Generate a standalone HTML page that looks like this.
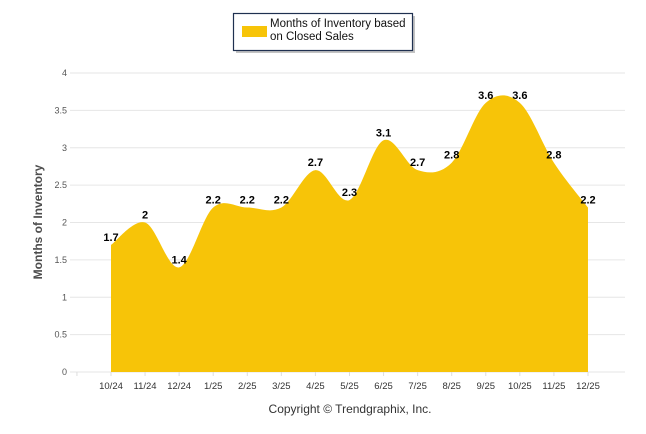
<!DOCTYPE html>
<html><head><meta charset="utf-8"><style>
body{margin:0;background:#fff;}
svg{display:block;font-family:"Liberation Sans",Arial,sans-serif;}
</style></head><body>
<svg id="chart" width="646" height="434" viewBox="0 0 646 434">
<g id="grid"></g>
<path id="area" fill="#f7c408"></path>
<g id="ylabels" font-size="9" fill="#555" text-anchor="end"></g>
<g id="xlabels" font-size="9.5" fill="#333" text-anchor="middle"></g>
<g id="vlabels" font-size="11" font-weight="bold" fill="#000" text-anchor="middle"></g>
<text transform="translate(42,222) rotate(-90)" text-anchor="middle" font-size="12" font-weight="bold" fill="#4d4d4d">Months of Inventory</text>
<text x="350" y="413" text-anchor="middle" font-size="12" fill="#333">Copyright © Trendgraphix, Inc.</text>
<g>
<rect x="236" y="16" width="179" height="37" fill="#888" opacity="0.5"/>
<rect x="233.5" y="13.5" width="179" height="37" fill="#fff" stroke="#1f3050" stroke-width="1.2"/>
<rect x="242" y="26" width="25" height="11" fill="#f7c408"/>
<text x="270" y="27" font-size="11.5" fill="#111">Months of Inventory based</text>
<text x="270" y="40" font-size="11.5" fill="#111">on Closed Sales</text>
</g>
</svg>
<script>
const categories=["10/24","11/24","12/24","1/25","2/25","3/25","4/25","5/25","6/25","7/25","8/25","9/25","10/25","11/25","12/25"];
const values=[1.7,2,1.4,2.2,2.2,2.2,2.7,2.3,3.1,2.7,2.8,3.6,3.6,2.8,2.2];
const yTicks=[0,0.5,1,1.5,2,2.5,3,3.5,4];
const NS="http://www.w3.org/2000/svg";
const x0=111,dx=34.07,yBase=372,yTop=73,yMax=4;
const X=i=>x0+dx*i;
const Y=v=>yBase-(yBase-yTop)*v/yMax;
const grid=document.getElementById('grid'),yl=document.getElementById('ylabels'),xl=document.getElementById('xlabels'),vl=document.getElementById('vlabels');
function mk(tag,attrs){const e=document.createElementNS(NS,tag);for(const k in attrs)e.setAttribute(k,attrs[k]);return e;}
yTicks.forEach(t=>{
 const l=mk('line',{x1:70,x2:625,y1:Y(t),y2:Y(t),stroke:'#e6e6e6','stroke-width':1});
 
 
 grid.appendChild(l);
 const tx=mk('text',{x:67,y:Y(t)+3});tx.textContent=t;
 
 
 yl.appendChild(tx);
});
for(let i=-1;i<categories.length;i++){
 const tk=mk('line',{x1:X(i),x2:X(i),y1:yBase,y2:yBase+4,stroke:'#ddd'});
 
 
 grid.appendChild(tk);
}
categories.forEach((c,i)=>{
 const t=mk('text',{x:X(i),y:389});t.textContent=c;
 
 
 xl.appendChild(t);
 const v=mk('text',{x:X(i),y:Y(values[i])-4});v.textContent=values[i];
 
 
 vl.appendChild(v);
});
// Catmull-Rom spline
const pts=values.map((v,i)=>({x:X(i),y:Y(v)}));
const n=pts.length;
let d=`M${pts[0].x},${yBase} L${pts[0].x},${pts[0].y}`;
for(let i=0;i<n-1;i++){
 const p0=pts[Math.max(i-1,0)],p1=pts[i],p2=pts[i+1],p3=pts[Math.min(i+2,n-1)];
 const c1x=p1.x+(p2.x-p0.x)/6,c1y=p1.y+(p2.y-p0.y)/6;
 const c2x=p2.x-(p3.x-p1.x)/6,c2y=p2.y-(p3.y-p1.y)/6;
 d+=` C${c1x},${c1y} ${c2x},${c2y} ${p2.x},${p2.y}`;
}
d+=` L${pts[n-1].x},${yBase} Z`;
document.getElementById('area').setAttribute('d',d);
</script>
</body></html>
